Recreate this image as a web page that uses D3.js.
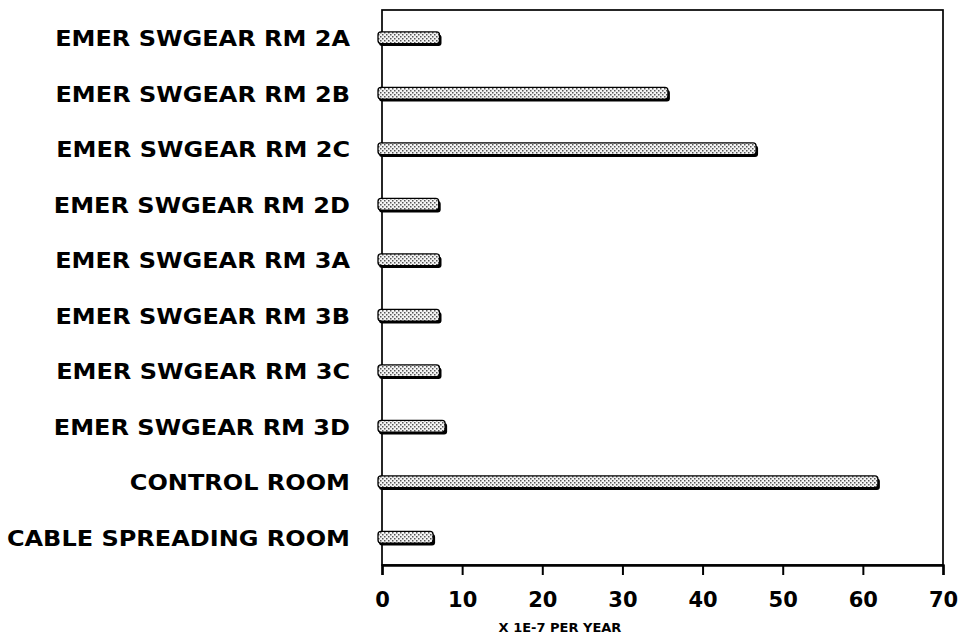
<!DOCTYPE html>
<html>
<head>
<meta charset="utf-8">
<script src="https://cdn.jsdelivr.net/npm/d3@7"></script>
<style>
  html, body { margin: 0; padding: 0; background: #fff; }
  svg { display: block; }
</style>
</head>
<body>
<svg id="chart" width="965" height="635"></svg>
<script>
const categories = [
  "EMER SWGEAR RM 2A",
  "EMER SWGEAR RM 2B",
  "EMER SWGEAR RM 2C",
  "EMER SWGEAR RM 2D",
  "EMER SWGEAR RM 3A",
  "EMER SWGEAR RM 3B",
  "EMER SWGEAR RM 3C",
  "EMER SWGEAR RM 3D",
  "CONTROL ROOM",
  "CABLE SPREADING ROOM"
];
const values = [7.3, 35.8, 46.8, 7.2, 7.3, 7.3, 7.3, 8.0, 62.0, 6.5];
const xTicks = [0, 10, 20, 30, 40, 50, 60, 70];
const xAxisTitle = "X 1E-7 PER YEAR";

(function () {
const svg = d3.select("#chart");
const mLeft = 382, mRight = 943, mTop = 10, mBottom = 565;

const x = d3.scaleLinear().domain([0, 70]).range([mLeft, mRight]);
const y = d3.scaleBand().domain(categories).range([mTop, mBottom]).paddingInner(0.79).paddingOuter(0.395);

// stipple pattern
const defs = svg.append("defs");
const pat = defs.append("pattern").attr("id", "stip").attr("patternUnits", "userSpaceOnUse")
  .attr("width", 4).attr("height", 4);
pat.append("rect").attr("width", 4).attr("height", 4).attr("fill", "#f4f4f4");
pat.append("rect").attr("x", 0).attr("y", 0).attr("width", 1.5).attr("height", 1.5).attr("fill", "#555");
pat.append("rect").attr("x", 2).attr("y", 2).attr("width", 1.5).attr("height", 1.5).attr("fill", "#555");

// frame
svg.append("rect").attr("x", mLeft).attr("y", mTop).attr("width", mRight - mLeft).attr("height", mBottom - mTop)
  .attr("fill", "none").attr("stroke", "#000").attr("stroke-width", 1.7);

// x axis
const xAxis = d3.axisBottom(x).tickValues(xTicks).tickSize(10).tickPadding(17).tickFormat(d3.format("d"));
const gx = svg.append("g").attr("transform", `translate(0,${mBottom})`).call(xAxis);
gx.select(".domain").attr("stroke", "#000").attr("stroke-width", 2.4);
gx.selectAll(".tick line").attr("stroke", "#000").attr("stroke-width", 2);
gx.selectAll(".tick text").attr("font-family", "'DejaVu Sans', sans-serif").attr("font-weight", "bold")
  .attr("font-size", 21).attr("fill", "#000");

svg.append("text").attr("x", 560).attr("y", 632).attr("text-anchor", "middle")
  .attr("font-family", "'DejaVu Sans', sans-serif").attr("font-weight", "bold").attr("font-size", 13)
  .attr("fill", "#000").text(xAxisTitle);

// bars
const bh = y.bandwidth();
const bars = svg.append("g");
categories.forEach((c, i) => {
  const yc = y(c);
  const x0 = x(0) - 4;
  const w = x(values[i]) - x0;
  bars.append("rect").attr("x", x0 + 1).attr("y", yc + 2.5).attr("width", w).attr("height", bh)
    .attr("rx", 3).attr("fill", "#000");
  bars.append("rect").attr("x", x0).attr("y", yc).attr("width", w - 1).attr("height", bh)
    .attr("rx", 3).attr("fill", "url(#stip)").attr("stroke", "#000").attr("stroke-width", 1.3);
});

// category labels
const labelG = svg.append("g").attr("transform", "translate(350,0)");
const labels = labelG.selectAll("text").data(categories).enter().append("text")
  .attr("x", 0).attr("y", d => y(d) + bh / 2 + 1)
  .attr("dy", "0.36em")
  .attr("text-anchor", "end")
  .attr("font-family", "'DejaVu Sans', sans-serif").attr("font-weight", "bold")
  .attr("font-size", 21).attr("fill", "#000")
  .text(d => d);
const ref = labels.filter(d => d === "EMER SWGEAR RM 2A").node().getComputedTextLength();
const sx = 295 / ref;
labelG.attr("transform", `translate(350,0) scale(${sx},1)`);
})();
</script>
</body>
</html>
